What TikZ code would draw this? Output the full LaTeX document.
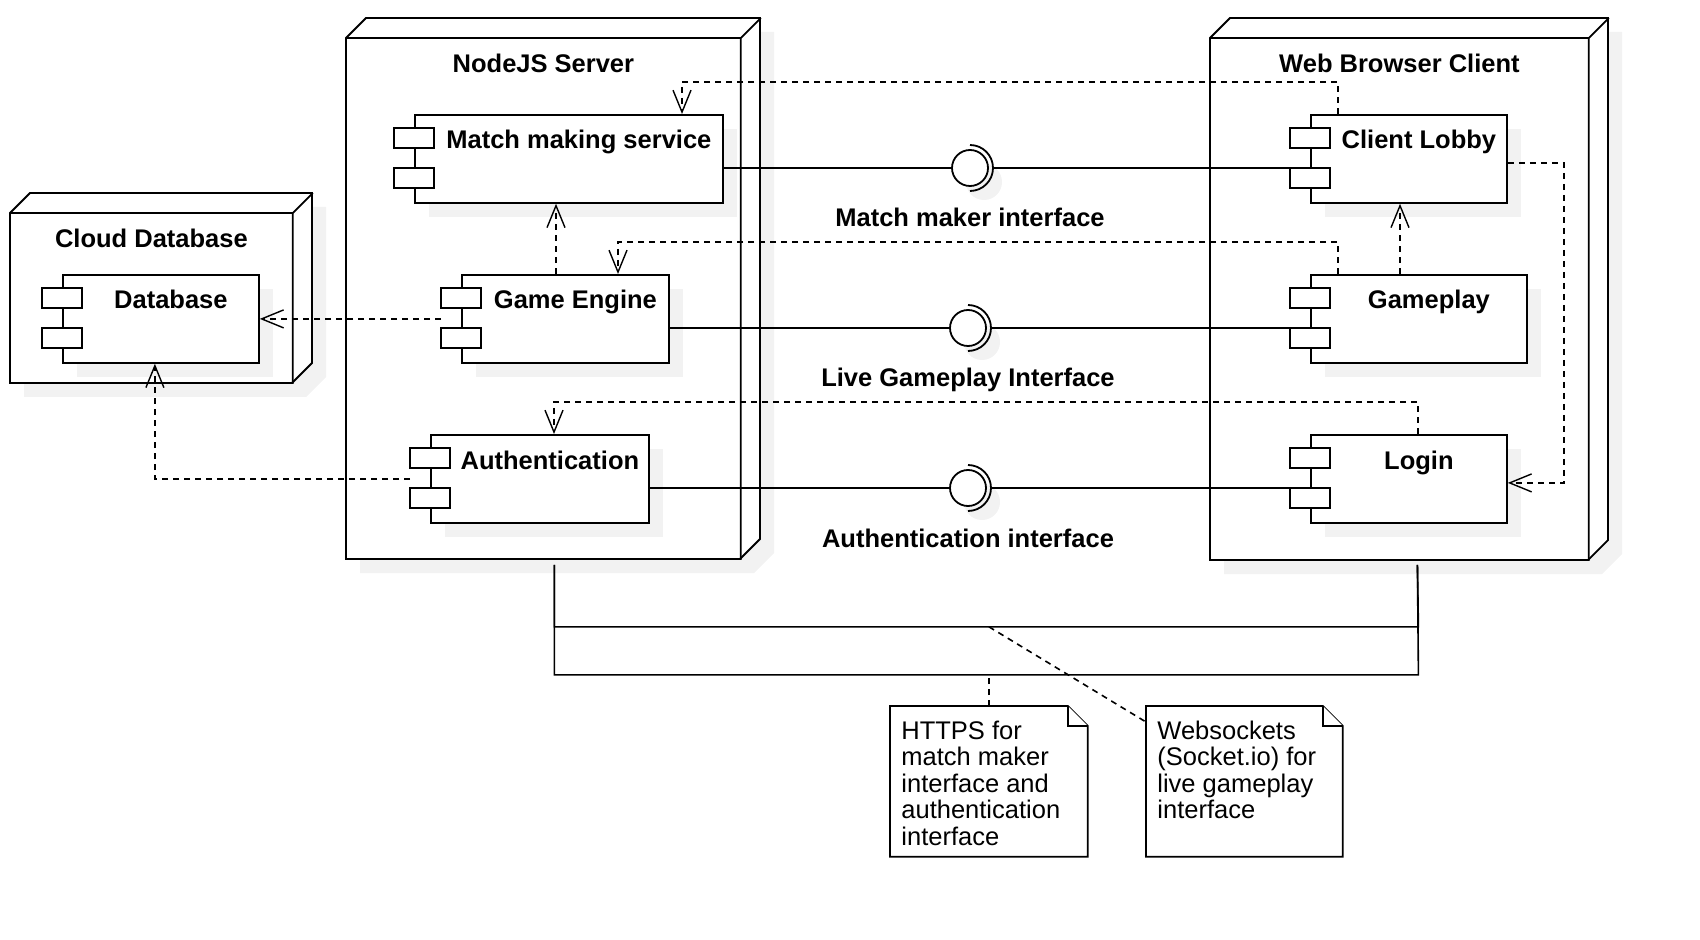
\documentclass[tikz,border=0pt]{standalone}
\usepackage{fontspec}
\setmainfont{Liberation Sans}
\usetikzlibrary{arrows.meta,calc,shadows}
\definecolor{shadowgray}{HTML}{F2F2F2}
\tikzset{
  shade7/.style={drop shadow={shadow xshift=7pt,shadow yshift=-7pt,fill=shadowgray,opacity=1}},
  devbox/.style={draw,line width=0.9pt,fill=white,shade7},
  devface/.style={anchor=north west,inner sep=0pt},
  devedge/.style={line width=0.9pt},
  comp/.style={draw,line width=0.9pt,fill=white,anchor=north west,minimum height=44pt,inner sep=0pt,shade7},
  port/.style={draw,line width=0.9pt,fill=white},
  boldtext/.style={font=\fontsize{12.75}{13.25}\selectfont\bfseries,anchor=base,inner sep=0pt},
  notetext/.style={font=\fontsize{12.75}{13.25}\selectfont,anchor=north west,align=left,inner sep=0pt},
  ball/.style={circle,draw,line width=0.9pt,fill=white,minimum size=18pt,inner sep=0pt,shade7},
  socket/.style={line width=0.9pt},
  link/.style={line width=0.9pt},
  dep/.style={line width=0.8pt,dash pattern=on 3pt off 2.5pt,-{Straight Barb[length=11pt,width=9pt,line width=0.7pt]}},
  commline/.style={line width=0.8pt},
  notebox/.style={anchor=north west,minimum height=75pt,inner sep=0pt},
  noteline/.style={draw,line width=0.9pt,fill=white},
  notelink/.style={line width=0.8pt,dash pattern=on 3pt off 2.5pt}
}
\begin{document}
\begin{tikzpicture}[x=0.5pt,y=-0.5pt]
\useasboundingbox (0,0) rectangle (1700,940);

% deployment nodes
\draw[devbox] (10,213) -- (30,193) -- (312,193) -- (312,363) -- (292,383) -- (10,383) -- cycle;
\node[devface,minimum width=141pt,minimum height=85pt] (cloud) at (10,213) {};
\draw[devedge] (cloud.north west) -- (cloud.north east) -- (cloud.south east) (cloud.north east) -- ++(20,-20);
\node[boldtext] (cloudtitle) at ($(cloud.north)+(0,35)$) {Cloud Database};

\draw[devbox] (346,38) -- (366,18) -- (760,18) -- (760,539) -- (740,559) -- (346,559) -- cycle;
\node[devface,minimum width=197pt,minimum height=260.5pt] (server) at (346,38) {};
\draw[devedge] (server.north west) -- (server.north east) -- (server.south east) (server.north east) -- ++(20,-20);
\node[boldtext] (servertitle) at ($(server.north)+(0,35)$) {NodeJS Server};

\draw[devbox] (1210,38) -- (1230,18) -- (1608,18) -- (1608,540) -- (1588,560) -- (1210,560) -- cycle;
\node[devface,minimum width=189pt,minimum height=261pt] (web) at (1210,38) {};
\draw[devedge] (web.north west) -- (web.north east) -- (web.south east) (web.north east) -- ++(20,-20);
\node[boldtext] (webtitle) at ($(web.north)+(0,35)$) {Web Browser Client};

% components
\node[comp,minimum width=154pt] (mm) at (414,114) {};
\node[comp,minimum width=103.5pt] (ge) at (461,274) {};
\node[comp,minimum width=109pt] (auth) at (430,434) {};
\node[comp,minimum width=98pt] (db) at (62,274) {};
\node[comp,minimum width=98pt] (lobby) at (1310,114) {};
\node[comp,minimum width=108pt] (play) at (1310,274) {};
\node[comp,minimum width=98pt] (login) at (1310,434) {};
\foreach \c in {mm,ge,auth,db,lobby,play,login}
  \foreach \dy in {14,54}
    \draw[port] ([shift={(-20,\dy)}]\c.north west) rectangle ++(40,20);

\node[boldtext] (mmtext) at ($(mm.north)+(10,35)$) {Match making service};
\node[boldtext] (getext) at ($(ge.north)+(10,35)$) {Game Engine};
\node[boldtext] (authtext) at ($(auth.north)+(10,35)$) {Authentication};
\node[boldtext] (dbtext) at ($(db.north)+(10,35)$) {Database};
\node[boldtext] (lobbytext) at ($(lobby.north)+(10,35)$) {Client Lobby};
\node[boldtext] (playtext) at ($(play.north)+(10,35)$) {Gameplay};
\node[boldtext] (logintext) at ($(login.north)+(10,35)$) {Login};

% interfaces
\node[ball] (if1) at (970,168) {};
\node[ball] (if2) at (968,328) {};
\node[ball] (if3) at (968,488) {};
\draw[socket] ([yshift=11.5pt]if1.center) arc (-90:90:23);
\draw[socket] ([yshift=11.5pt]if2.center) arc (-90:90:23);
\draw[socket] ([yshift=11.5pt]if3.center) arc (-90:90:23);
\coordinate (if1r) at ([xshift=11.5pt]if1.center);
\coordinate (if2r) at ([xshift=11.5pt]if2.center);
\coordinate (if3r) at ([xshift=11.5pt]if3.center);
\node[boldtext] (if1text) at ($(if1)+(0,59)$) {Match maker interface};
\node[boldtext] (if2text) at ($(if2)+(0,59)$) {Live Gameplay Interface};
\node[boldtext] (if3text) at ($(if3)+(0,59)$) {Authentication interface};

\draw[link] ([yshift=-27pt]mm.north east) -- (if1.west);
\draw[link] (if1r) -- ([shift={(-10pt,-27pt)}]lobby.north west);
\draw[link] ([yshift=-27pt]ge.north east) -- (if2.west);
\draw[link] (if2r) -- ([shift={(-10pt,-27pt)}]play.north west);
\draw[link] ([yshift=-27pt]auth.north east) -- (if3.west);
\draw[link] (if3r) -- ([shift={(-10pt,-27pt)}]login.north west);

% dependencies
\draw[dep] ([xshift=14pt]lobby.north west) -- ++(0,-32) -| ([xshift=134pt]mm.north west);
\draw[dep] ([xshift=14pt]play.north west) -- ++(0,-32) -| ([xshift=78.5pt]ge.north west);
\draw[dep] ([xshift=54pt]login.north west) -- ++(0,-32) -| ([xshift=62pt]auth.north west);
\draw[dep] ([xshift=47.5pt]ge.north west) coordinate (geup) -- (geup |- mm.south);
\draw[dep] ([xshift=45pt]play.north west) coordinate (playup) -- (playup |- lobby.south);
\draw[dep] ([yshift=-2pt]lobby.east) -- ++(56,0) |- ([yshift=-2pt]login.east);
\draw[dep] ([xshift=-10pt]ge.west) -- (db.east);
\draw[dep] ([xshift=-10pt]auth.west) -| ([xshift=-3pt]db.south);

% communication paths
\coordinate (srvlink) at ($(server.south)+(11,5)$);
\coordinate (weblink) at ($(web.south)+(18,4)$);
\draw[commline] (srvlink) -- ++(0,62) coordinate (wsl) -- ++(864,0) -- (weblink);
\draw[commline] (srvlink) -- ++(0,110) coordinate (httpsl) -- ++(864,0) -- (weblink);

% notes
\node[notebox,minimum width=98.5pt] (https) at (890,706) {};
\draw[noteline] (https.north west) -- ([xshift=-10pt]https.north east) -- ([yshift=-10pt]https.north east) -- (https.south east) -- (https.south west) -- cycle;
\draw[noteline] ([xshift=-10pt]https.north east) |- ([yshift=-10pt]https.north east);
\node[notetext] (httpstext) at ($(https.north west)+(11,14.5)$) {HTTPS for\\match maker\\interface and\\authentication\\interface};

\node[notebox,minimum width=98pt] (ws) at (1146,706) {};
\draw[noteline] (ws.north west) -- ([xshift=-10pt]ws.north east) -- ([yshift=-10pt]ws.north east) -- (ws.south east) -- (ws.south west) -- cycle;
\draw[noteline] ([xshift=-10pt]ws.north east) |- ([yshift=-10pt]ws.north east);
\node[notetext] (wstext) at ($(ws.north west)+(11,14.5)$) {Websockets\\(Socket.io) for\\live gameplay\\interface};

\draw[notelink] (https.north) -- (https.north |- httpsl);
\draw[notelink] (https.north |- wsl) -- ([yshift=-8pt]ws.north west);
\end{tikzpicture}
\end{document}
